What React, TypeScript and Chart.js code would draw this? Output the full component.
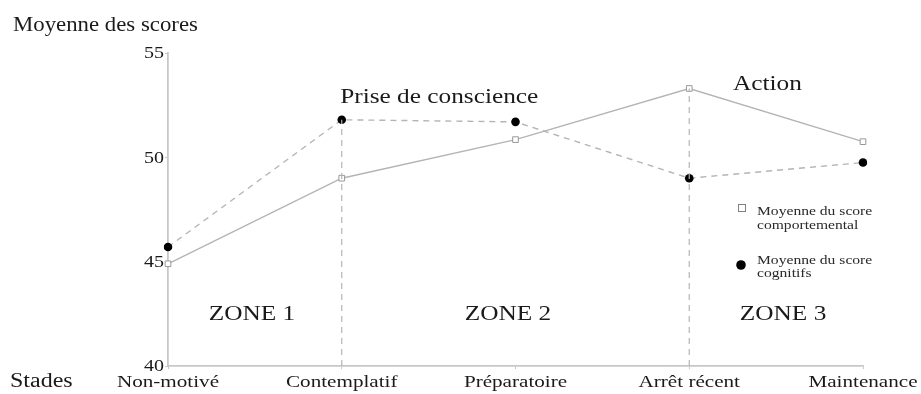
import React, { useEffect, useRef } from "react";
import { Chart, registerables } from "chart.js";

Chart.register(...registerables);

const stages = ["Non-motivé", "Contemplatif", "Préparatoire", "Arrêt récent", "Maintenance"];
const behavioural = [44.9, 49.0, 50.85, 53.3, 50.75];
const cognitive = [45.7, 51.8, 51.7, 49.0, 49.75];
const yTicks = [40, 45, 50, 55];
const zoneLabels = ["ZONE 1", "ZONE 2", "ZONE 3"];
const zonePositions = [0.483, 1.957, 3.54];
const zoneValue = 42.2;
const phaseLabels = ["Prise de conscience", "Action"];
const phasePositions = [1.561, 3.45];
const phaseValues = [52.62, 53.22];
const legendLabels = [
  ["Moyenne du score", "comportemental"],
  ["Moyenne du score", "cognitifs"],
];

const SERIF = '"Liberation Serif", "DejaVu Serif", serif';
const GRAY = "#b4b4b4";
const INK = "#1a1a1a";

function txt(ctx: CanvasRenderingContext2D, s: string, x: number, y: number, size: number, sx: number, align: CanvasTextAlign, baseline: CanvasTextBaseline = "alphabetic") {
  ctx.save();
  ctx.translate(x, y);
  ctx.scale(sx, 1);
  ctx.font = `${size}px ${SERIF}`;
  ctx.textAlign = align;
  ctx.textBaseline = baseline;
  ctx.fillText(s, 0, 0);
  ctx.restore();
}

const annotations = {
  id: "annotations",
  afterDatasetsDraw(chart: any) {
    const { ctx, scales } = chart;
    const xs = scales.x;
    const ys = scales.y;
    const px = (i: number) => {
      const f = Math.floor(i);
      const a = xs.getPixelForValue(f);
      const b = xs.getPixelForValue(Math.min(f + 1, stages.length - 1));
      return a + (b - a) * (i - f);
    };
    ctx.save();
    ctx.fillStyle = INK;
    // axis titles
    txt(ctx, "Moyenne des scores", 13, 30.7, 20, 1.14, "left");
    txt(ctx, "Stades", 10, 386.7, 20, 1.2, "left");
    // x tick labels
    stages.forEach((s, i) => {
      txt(ctx, s, xs.getPixelForValue(i), 386.7, 16, 1.32, "center");
    });
    // y tick labels
    yTicks.forEach((v) => {
      txt(ctx, String(v), 164, ys.getPixelForValue(v) + 1, 16, 1.25, "right", "middle");
    });
    // zones
    zoneLabels.forEach((t, i) => {
      txt(ctx, t, px(zonePositions[i]), ys.getPixelForValue(zoneValue), 22, 1.15, "center");
    });
    phaseLabels.forEach((t, i) => {
      txt(ctx, t, px(phasePositions[i]), ys.getPixelForValue(phaseValues[i]), 22, 1.15, "center");
    });
    // legend
    const lx = 742;
    ctx.strokeStyle = "#808080";
    ctx.fillStyle = "#fff";
    ctx.lineWidth = 1;
    ctx.fillRect(lx - 3.5, 208 - 3.5, 7, 7);
    ctx.strokeRect(lx - 3.5, 208 - 3.5, 7, 7);
    ctx.fillStyle = "#000";
    ctx.beginPath();
    ctx.arc(lx - 1, 265, 4.8, 0, Math.PI * 2);
    ctx.fill();
    ctx.fillStyle = "#2a2a2a";
    const baselines = [[215, 229], [264, 277]];
    legendLabels.forEach((lines, i) => {
      lines.forEach((l, j) => {
        txt(ctx, l, 757, baselines[i][j], 12, 1.3, "left");
      });
    });
    ctx.restore();
  },
};

export default function App() {
  const ref = useRef<HTMLCanvasElement>(null);
  useEffect(() => {
    document.body.style.margin = "0";
    const chart = new Chart(ref.current!, {
      type: "line",
      data: {
        labels: stages,
        datasets: [
          {
            label: "guide1",
            data: [
              { x: stages[1], y: 40 },
              { x: stages[1], y: cognitive[1] },
            ] as any,
            borderColor: GRAY,
            borderWidth: 1.2,
            borderDash: [6, 5],
            pointRadius: 0,
            fill: false,
          },
          {
            label: "guide2",
            data: [
              { x: stages[3], y: 40 },
              { x: stages[3], y: behavioural[3] },
            ] as any,
            borderColor: GRAY,
            borderWidth: 1.2,
            borderDash: [6, 5],
            pointRadius: 0,
            fill: false,
          },
          {
            label: "Moyenne du score comportemental",
            data: behavioural,
            borderColor: GRAY,
            borderWidth: 1.4,
            pointStyle: "rect",
            pointRadius: 4,
            pointBackgroundColor: "#fff",
            pointBorderColor: "#999",
            pointBorderWidth: 1,
            tension: 0,
          },
          {
            label: "Moyenne du score cognitifs",
            data: cognitive,
            borderColor: GRAY,
            borderWidth: 1.4,
            borderDash: [6, 5],
            pointStyle: "circle",
            pointRadius: 4.3,
            pointBackgroundColor: "#000",
            pointBorderColor: "#000",
            pointBorderWidth: 0,
            tension: 0,
          },
        ],
      },
      options: {
        responsive: false,
        animation: false,
        layout: { padding: { top: 53, right: 58, left: 0, bottom: 0 } },
        plugins: { legend: { display: false }, tooltip: { enabled: false } },
        scales: {
          x: {
            type: "category",
            offset: false,
            border: { color: "#c8c8c8", width: 1.8 },
            grid: { drawOnChartArea: false, tickLength: 3, color: "#c8c8c8" },
            ticks: { display: false, autoSkip: false },
            afterFit(s: any) {
              s.height = 28;
              s.paddingLeft = 0;
              s.paddingRight = 0;
            },
          },
          y: {
            min: 40,
            max: 55,
            border: { color: "#c8c8c8", width: 1.8 },
            grid: { drawOnChartArea: false, tickLength: 3, color: "#c8c8c8" },
            afterBuildTicks(s: any) {
              s.ticks = yTicks.map((v) => ({ value: v }));
            },
            ticks: { display: false },
            afterFit(s: any) {
              s.width = 168;
              s.paddingTop = 0;
              s.paddingBottom = 0;
            },
          },
        },
      },
      plugins: [annotations],
    });
    return () => chart.destroy();
  }, []);
  return (
    <div style={{ width: 921, height: 394, background: "#fff" }}>
      <canvas ref={ref} width={921} height={394} style={{ display: "block" }} />
    </div>
  );
}
